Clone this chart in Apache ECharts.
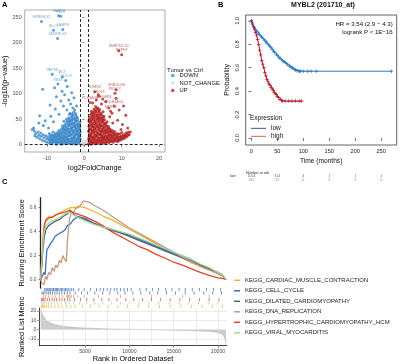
<!DOCTYPE html>
<html>
<head>
<meta charset="utf-8">
<script src="https://cdn.jsdelivr.net/npm/echarts@6/dist/echarts.min.js"></script>
<style>
  html, body { margin: 0; padding: 0; background: #fff; }
  #main { width: 400px; height: 364px; }
</style>
</head>
<body>
<div id="main"></div>
<script>
const FONT = '"Liberation Sans", Arial, sans-serif'

// ---------- A: volcano ----------
const fcCut = 1
const pCut = 1.3
const downPts = [
  [-1.1,2],[-1.3,7],[-1.2,13],[-1.4,19],[-1.1,25],[-1.3,31],[-1.5,38],[-1.2,44],
  [-1.7,3],[-1.9,9],[-1.6,16],[-1.8,22],[-2.0,28],[-1.7,35],[-1.9,41],[-1.8,48],[-2.0,55],
  [-2.3,1],[-2.5,6],[-2.2,12],[-2.6,18],[-2.4,25],[-2.3,32],[-2.6,39],[-2.4,46],[-2.5,53],[-2.3,61],[-2.6,68],
  [-2.9,4],[-3.1,10],[-2.8,16],[-3.0,23],[-3.2,29],[-2.9,36],[-3.1,43],[-3.0,50],[-3.2,57],[-2.9,64],[-3.1,72],
  [-3.5,2],[-3.7,8],[-3.4,14],[-3.6,21],[-3.8,27],[-3.5,34],[-3.7,41],[-3.6,48],[-3.4,55],[-3.8,62],
  [-4.1,5],[-4.3,11],[-4.0,18],[-4.2,24],[-4.4,31],[-4.1,38],[-4.3,45],[-4.2,53],[-4.0,60],
  [-4.7,3],[-4.9,9],[-4.6,15],[-4.8,22],[-5.0,28],[-4.7,35],[-4.9,42],[-4.8,50],
  [-5.3,6],[-5.5,12],[-5.2,18],[-5.4,25],[-5.6,32],[-5.3,39],[-5.5,46],
  [-5.9,4],[-6.1,10],[-5.8,16],[-6.0,23],[-6.2,30],[-5.9,37],
  [-6.5,3],[-6.7,9],[-6.4,15],[-6.6,21],[-6.8,28],
  [-7.1,5],[-7.3,11],[-7.0,17],[-7.2,24],[-7.5,1],[-6.2,1],[-8.7,2],
  [-7.7,4],[-7.9,10],[-7.6,16],[-7.8,22],
  [-8.3,6],[-8.5,12],[-8.2,18],[-8.4,25],
  [-8.9,8],[-9.1,14],[-8.8,20],[-9.3,3],
  [-9.5,10],[-9.7,16],[-9.4,22],[-10.0,5],
  [-10.1,12],[-10.3,18],[-10.6,7],
  [-10.8,14],[-11.0,20],[-11.3,9],
  [-11.5,17],[-11.7,23],[-12.0,12],
  [-12.2,19],[-12.4,25],[-12.7,15],
  [-13.0,22],[-13.4,27],[-13.3,18],[-14.0,30],
  [-1.4,5],[-1.2,11],[-1.5,17],[-1.3,23],[-1.5,29],[-1.2,35],[-1.4,41],
  [-2.0,6],[-1.8,13],[-2.1,20],[-1.9,26],[-2.1,32],[-2.0,39],[-2.1,46],[-1.9,52],
  [-2.6,4],[-2.4,10],[-2.7,15],[-2.5,21],[-2.7,29],[-2.5,36],[-2.7,43],[-2.6,50],[-2.4,58],
  [-3.2,2],[-3.3,7],[-3.1,13],[-3.4,20],[-3.1,26],[-3.3,33],[-3.2,40],[-3.4,47],[-3.3,53],[-3.2,60],
  [-3.9,4],[-3.8,11],[-3.9,18],[-4.0,24],[-3.8,31],[-4.0,38],[-3.9,44],[-4.0,50],
  [-4.5,2],[-4.5,8],[-4.6,12],[-4.4,19],[-4.5,26],[-4.6,32],[-4.4,40],[-4.6,46],
  [-5.1,4],[-5.1,10],[-5.0,16],[-5.2,22],[-5.1,30],[-5.2,36],
  [-5.7,2],[-5.7,8],[-5.6,14],[-5.8,20],[-5.7,27],[-5.8,33],
  [-6.3,6],[-6.3,13],[-6.4,19],[-6.3,25],
  [-6.9,5],[-6.9,12],[-6.8,18],[-7.0,23],
  [-7.4,7],[-7.5,14],[-7.4,20],
  [-8.0,7],[-8.1,13],[-8.0,19],
  [-8.6,4],[-8.7,9],[-8.6,16],
  [-9.2,6],[-9.3,11],[-9.1,18],
  [-11.2,109],[-8.0,112],[-4.6,114],[-6.0,105],[-3.4,102],[-5.3,98],[-7.5,94],[-2.8,92],
  [-4.2,88],[-6.3,86],[-9.2,78],[-3.7,80],[-5.6,76],[-2.1,76],[-7.8,70],[-4.7,68],
  [-12.0,57],[-9.0,56],[-6.8,60],[-10.5,47],[-12.2,43],[-8.3,45],[-11.0,38],[-9.6,33],[-13.6,33]
]
const ncPts = [[-0.5,1],[0.3,2],[-0.2,4],[0.6,0.5],[0.1,6],[-0.8,3],[0.8,5],[-0.4,8],[0.5,9],[0,3]]
const upPts = [
  [1.1,2],[1.3,8],[1.2,14],[1.4,20],[1.1,27],[1.3,33],[1.5,40],[1.2,47],[1.4,54],
  [1.7,1],[1.9,6],[1.6,12],[1.8,18],[2.0,25],[1.7,31],[1.9,38],[1.8,45],[2.0,52],[1.7,59],[1.9,66],
  [2.3,3],[2.5,9],[2.2,15],[2.6,22],[2.4,28],[2.3,35],[2.6,42],[2.4,49],[2.5,56],[2.3,63],[2.6,70],
  [2.9,2],[3.1,7],[2.8,13],[3.0,19],[3.2,26],[2.9,33],[3.1,40],[3.0,47],[3.2,54],[2.9,61],[3.1,68],[3.0,75],
  [3.5,4],[3.7,10],[3.4,17],[3.6,23],[3.8,30],[3.5,37],[3.7,44],[3.6,51],[3.4,58],[3.8,65],[3.6,72],
  [4.1,2],[4.3,8],[4.0,14],[4.2,21],[4.4,27],[4.1,34],[4.3,41],[4.2,48],[4.0,55],[4.4,62],[4.1,69],
  [4.7,5],[4.9,11],[4.6,17],[4.8,24],[5.0,30],[4.7,37],[4.9,44],[4.8,51],[4.6,58],[5.0,65],
  [5.3,3],[5.5,9],[5.2,15],[5.4,22],[5.6,28],[5.3,35],[5.5,42],[5.4,49],[5.2,56],
  [5.9,6],[6.1,12],[5.8,18],[6.0,25],[6.2,31],[5.9,38],[6.1,45],
  [6.5,4],[6.7,10],[6.4,16],[6.6,23],[6.8,29],[6.5,36],
  [7.1,7],[7.3,13],[7.0,19],[7.2,26],
  [7.7,5],[7.9,11],[7.6,17],[7.8,23],
  [8.3,8],[8.5,14],[8.2,20],
  [8.9,6],[9.1,12],[8.8,18],
  [9.5,9],[9.7,15],[9.4,21],
  [10.1,11],[10.3,17],[10.0,24],
  [10.7,13],[10.9,19],
  [11.3,16],[11.5,22],
  [12.0,20],[12.3,25],
  [1.4,5],[1.2,11],[1.5,17],[1.3,24],[1.5,30],[1.2,37],[1.4,44],[1.3,50],
  [2.0,4],[1.8,9],[2.1,15],[1.9,21],[2.1,28],[2.0,35],[2.1,42],[1.9,48],[2.1,56],[2.0,62],
  [2.6,6],[2.4,12],[2.7,18],[2.5,25],[2.7,32],[2.5,38],[2.7,45],[2.6,52],[2.4,59],[2.7,66],
  [3.3,4],[3.3,10],[3.1,16],[3.4,22],[3.1,29],[3.3,36],[3.2,43],[3.4,50],[3.3,57],[3.2,64],[3.4,71],
  [3.9,7],[3.8,13],[3.9,20],[4.0,27],[3.8,33],[4.0,40],[3.9,47],[4.0,53],[3.8,60],[3.9,67],
  [4.5,3],[4.5,10],[4.6,14],[4.4,20],[4.5,26],[4.6,31],[4.4,38],[4.6,45],[4.5,52],[4.4,59],
  [5.1,7],[5.1,13],[5.0,19],[5.2,26],[5.1,33],[5.2,40],[5.0,47],[5.1,54],
  [5.7,4],[5.7,11],[5.6,16],[5.8,23],[5.7,30],[5.8,36],[5.7,43],
  [6.3,8],[6.3,14],[6.4,20],[6.3,27],[6.4,33],
  [6.9,6],[6.9,13],[6.8,19],[7.0,25],[6.9,31],
  [7.4,9],[7.5,16],[7.4,22],[7.5,28],
  [8.0,8],[8.1,14],[8.0,20],[8.1,26],
  [8.6,10],[8.7,16],[8.6,22],
  [9.2,9],[9.3,15],[9.1,21],
  [9.8,12],[9.9,18],[10.4,14],[10.5,20],[11.0,17],[11.1,23],[11.7,19],[11.8,25],
  [3.7,98],[8.5,91],[10.5,76],[11.1,58],[7.4,62],[6.5,72],[4.6,80],[2.2,82],[9.3,68],
  [6.8,55],[8.9,48],[10.2,40],[7.6,43],[11.6,33],[9.8,30],[4.9,90],[3.2,88]
]
const downLabels = [
  ['SMAD3', -6.9, 252.7], ['PLL3', -6.4, 252], ['GRRSS-X1', -11.5, 241.5], ['LAMP8', -5.8, 225.8],
  ['SLC1', -8.3, 224.4], ['SNURF-X1', -7.2, 208], ['PAPSS', -8.6, 138], ['ACT', -5.9, 133],
  ['CXCL8', -5.0, 126], ['TBX8', -7.1, 119]
]
const upLabels = [
  ['SNRPD2-X2', 9.2, 184], ['NXPH7', 10.0, 176.6], ['STMN2', 2.8, 104], ['GRB10-E8', 8.5, 107.7],
  ['AR276', 3.9, 95], ['PKDCC', 8.2, 101], ['FGFR4', 5.7, 85], ['PLXNA4B', 1.5, 83],
  ['ALDH1A3-1', 8.0, 76], ['MTRL3', 7.0, 66]
]
const volcanoXTicks = [-10, 0, 10, 20]
const volcanoYTicks = [0, 50, 100, 150, 200, 250]

// ---------- B: Kaplan-Meier ----------
const kmLowTime = [0,2,5,8,10,13,15,18,20,23,25,28,30,33,35,38,40,43,45,48,50,53,55,58,60,63,65,68,70,73,75,78,80,83,85,88,90,93,95,100,108,115,125,270]
const kmLowSurv = [1.0,0.97,0.945,0.925,0.91,0.895,0.885,0.87,0.86,0.845,0.835,0.82,0.81,0.795,0.785,0.77,0.755,0.74,0.73,0.715,0.705,0.69,0.68,0.67,0.66,0.65,0.645,0.635,0.625,0.615,0.61,0.6,0.595,0.585,0.58,0.575,0.572,0.57,0.57,0.57,0.57,0.57,0.57,0.57]
const kmHighTime = [0,2,4,6,8,10,12,14,16,18,20,22,24,26,28,30,32,34,36,38,40,42,44,46,48,50,52,55,58,60,65,72,78,85,92,97]
const kmHighSurv = [1.0,0.98,0.95,0.93,0.9,0.877,0.84,0.8,0.75,0.71,0.66,0.63,0.6,0.56,0.53,0.5,0.48,0.46,0.45,0.43,0.42,0.405,0.39,0.38,0.37,0.356,0.345,0.33,0.32,0.315,0.315,0.315,0.315,0.315,0.315,0.315]
const kmTimeTicks = [0, 50, 100, 150, 200, 250]
const kmProbTicks = [0, 0.2, 0.4, 0.6, 0.8, 1.0]
const riskLow = [1054, 314, 4, 1, 1, 1]
const riskHigh = [362, 22, 0, 0, 0, 0]

// ---------- C: GSEA ----------
const gseaSets = ['KEGG_CARDIAC_MUSCLE_CONTRACTION', 'KEGG_CELL_CYCLE', 'KEGG_DILATED_CARDIOMYOPATHY',
  'KEGG_DNA_REPLICATION', 'KEGG_HYPERTROPHIC_CARDIOMYOPATHY_HCM', 'KEGG_VIRAL_MYOCARDITIS']
const gseaColors = ['#e8b830', '#3b6fbf', '#4f6475', '#c49a82', '#e2452b', '#a3d69c']
const esCardiac = [[0,0],[150,0.2],[300,0.38],[500,0.48],[800,0.5],[1200,0.52],[1600,0.53],[2000,0.55],[2500,0.57],[3000,0.59],[3400,0.6],[3800,0.6],[4200,0.61],[5000,0.6],[6000,0.57],[7000,0.53],[8000,0.5],[9000,0.46],[10000,0.42],[11000,0.38],[12000,0.34],[13000,0.3],[14000,0.26],[15000,0.22],[16000,0.18],[17000,0.14],[18000,0.11],[19000,0.08],[20000,0.05],[20500,0.03],[20900,0]]
const esCellCycle = [[0,0],[200,0.03],[400,0.06],[500,0.04],[700,0.25],[900,0.27],[1100,0.3],[1400,0.33],[1600,0.36],[1800,0.35],[2000,0.38],[2200,0.37],[2500,0.4],[2800,0.42],[3000,0.45],[3300,0.46],[3600,0.49],[3900,0.51],[4200,0.52],[4600,0.51],[5000,0.5],[6000,0.47],[7000,0.44],[8000,0.42],[9000,0.39],[10000,0.37],[11000,0.34],[12000,0.31],[13000,0.28],[14000,0.25],[15000,0.22],[16000,0.19],[17000,0.16],[18000,0.12],[19000,0.09],[20000,0.05],[20500,0.03],[20900,0]]
const esDilated = [[0,0],[100,0.1],[250,0.25],[400,0.35],[600,0.42],[900,0.45],[1300,0.47],[1700,0.49],[2100,0.5],[2600,0.53],[3000,0.55],[3300,0.57],[3600,0.55],[4000,0.53],[5000,0.51],[6000,0.47],[7000,0.44],[8000,0.41],[9000,0.39],[10000,0.36],[11000,0.33],[12000,0.3],[13000,0.27],[14000,0.24],[15000,0.21],[16000,0.18],[17000,0.15],[18000,0.12],[19000,0.09],[20000,0.06],[20500,0.04],[20900,0]]
const esDnaRep = [[0,0],[150,-0.03],[400,-0.04],[550,0.03],[700,0.0],[900,0.06],[1100,0.04],[1300,0.1],[1500,0.07],[1700,0.12],[1900,0.1],[2100,0.16],[2300,0.14],[2500,0.2],[2700,0.17],[2900,0.15],[3000,0.3],[3100,0.4],[3250,0.5],[3450,0.56],[3700,0.56],[3900,0.59],[4200,0.6],[4500,0.62],[4800,0.655],[5200,0.65],[5600,0.64],[6000,0.62],[7000,0.58],[8000,0.53],[9000,0.48],[10000,0.43],[11000,0.39],[12000,0.35],[13000,0.31],[14000,0.27],[15000,0.23],[16000,0.19],[17000,0.15],[18000,0.11],[19000,0.08],[20000,0.05],[20500,0.03],[20900,0]]
const esHcm = [[0,0],[100,0.1],[250,0.3],[400,0.45],[600,0.5],[900,0.52],[1300,0.52],[1700,0.54],[2100,0.55],[2600,0.56],[3000,0.57],[3300,0.58],[3600,0.56],[4000,0.55],[5000,0.525],[6000,0.49],[7000,0.45],[8000,0.4],[9000,0.36],[10000,0.32],[11000,0.28],[12000,0.25],[13000,0.21],[14000,0.18],[15000,0.145],[16000,0.12],[17000,0.09],[18000,0.06],[19000,0.035],[20000,0.015],[20500,0.01],[20900,0]]
const esViral = [[0,0],[100,0.12],[250,0.3],[400,0.4],[600,0.45],[900,0.47],[1300,0.49],[1700,0.5],[2100,0.52],[2600,0.54],[3000,0.56],[3300,0.56],[3700,0.54],[4200,0.52],[5000,0.49],[6000,0.46],[7000,0.44],[8000,0.42],[9000,0.4],[10000,0.38],[11000,0.35],[12000,0.32],[13000,0.29],[14000,0.26],[15000,0.23],[16000,0.2],[17000,0.17],[18000,0.13],[19000,0.1],[20000,0.06],[20500,0.04],[20900,0]]
const esLines = [esCardiac, esCellCycle, esDilated, esDnaRep, esHcm, esViral]

const hitsCellCycle = [450,600,700,820,950,1050,1150,1300,1420,1500,1650,1780,1900,2050,2200,2350,2500,2650,2800,2950,3100,3300,3500,3700,4300,4900,5600,6300,6700,7100,7500,7900,8300,8600,9000,9400,9800,10200,11200,11900,12600,13300,14100,14800,15600,16300,17100,17900,18700,19500,20300]
const hitsDilated = [150,300,480,700,900,1100,1350,1600,1850,2100,2400,2700,3000,3300,3900,4600,5300,6100,7000,7800,8700,9500,10400,11300,12300,13200,14200,15200,16300,17300,18400,19400,20400]
const hitsDnaRep = [300,550,900,1300,1700,2100,2500,2950,3050,3150,3300,3450,3700,4200,4900,6500,9000,12500,16000,19000]
const hitsHcm = [100,220,350,500,750,1000,1300,1550,1800,2100,2400,2700,3000,3300,3800,4500,5200,6000,6900,7700,8600,9600,10500,11500,12500,13500,14600,15700,16800,17900,19000,20100]
const hitsViral = [120,260,420,650,900,1200,1500,1900,2300,2800,3200,3700,4400,5200,6100,7000,8000,9000,10000,11100,12200,13300,14500,15600,16700,17800,18900,20000]
const hitsCardiac = [80,180,300,450,650,900,1200,1600,2000,2400,2900,3400,3900,4700,5600,6600,7600,8700,9800,11000,12200,13400,14600,15800,17000,18200,19400,20500]
// rug rows from top to bottom, index into gseaSets
const rugRows = [1, 2, 3, 4, 5, 0]
const rugHits = [hitsCellCycle, hitsDilated, hitsDnaRep, hitsHcm, hitsViral, hitsCardiac]

const metricRank = [0,100,300,600,1000,1500,2000,3000,4000,5000,6000,7000,8000,9000,10000,10800,11500,12500,13000,14000,15000,16000,17000,18000,19000,19800,20300,20600,20800,20900]
const metricVal = [22,18,14,10,7.5,5.5,4.5,3,2.2,1.7,1.3,1.0,0.7,0.5,0.35,0.1,0,0,-0.1,-0.3,-0.5,-0.7,-1,-1.3,-1.8,-2.6,-4,-6,-10,-15]
const rankTicks = [5000, 10000, 15000, 20000]
const rankGrid = [2500, 5000, 7500, 10000, 12500, 15000, 17500, 20000]
const esTicks = [0, 0.2, 0.4, 0.6]
const metricTicks = [-10, 0, 10, 20]

const plusSym = 'path://M4,0H6V4H10V6H6V10H4V6H0V4H4Z'
const blue = '#3a86c8', red = '#b32020'
const kmLowCol = '#2b78be', kmHighCol = '#b5172e'

function tickAxis(extra) {
  return Object.assign({
    type: 'value',
    axisLine: {show: false},
    splitLine: {show: false},
    axisTick: {show: true, length: 2, lineStyle: {color: '#333', width: 0.6}},
    axisLabel: {fontSize: 5.5, color: '#4d4d4d', margin: 3, fontFamily: FONT},
    nameTextStyle: {fontSize: 7.3, color: '#000', fontFamily: FONT},
    nameLocation: 'middle'
  }, extra)
}

const series = []

// volcano
series.push({name: 'DOWN', type: 'scatter', xAxisIndex: 0, yAxisIndex: 0, data: downPts, symbolSize: 3, itemStyle: {color: blue}})
series.push({name: 'NOT_CHANGE', type: 'scatter', xAxisIndex: 0, yAxisIndex: 0, data: ncPts, symbolSize: 3, itemStyle: {color: '#d6d6d6'}})
series.push({name: 'UP', type: 'scatter', xAxisIndex: 0, yAxisIndex: 0, data: upPts, symbolSize: 3, itemStyle: {color: red},
  markLine: {silent: true, symbol: 'none', label: {show: false},
    lineStyle: {color: '#111', width: 0.9, type: [3, 2]},
    data: [{xAxis: -fcCut}, {xAxis: fcCut}, {yAxis: pCut}]}})
series.push({type: 'scatter', xAxisIndex: 0, yAxisIndex: 0, symbolSize: 3, itemStyle: {color: blue},
  data: downLabels.map(d => ({name: d[0], value: [d[1], d[2]]})),
  label: {show: true, formatter: '{b}', position: 'top', distance: 1, fontSize: 3.6, color: '#4a86bd', fontFamily: FONT}})
series.push({type: 'scatter', xAxisIndex: 0, yAxisIndex: 0, symbolSize: 3, itemStyle: {color: red},
  data: upLabels.map(d => ({name: d[0], value: [d[1], d[2]]})),
  label: {show: true, formatter: '{b}', position: 'top', distance: 1, fontSize: 3.6, color: '#a84040', fontFamily: FONT}})

// KM
series.push({name: 'low', type: 'line', step: 'end', xAxisIndex: 1, yAxisIndex: 1,
  data: kmLowTime.map((t, i) => [t, kmLowSurv[i]]), symbol: plusSym, symbolSize: 3.5, showSymbol: true,
  lineStyle: {color: kmLowCol, width: 1}, itemStyle: {color: kmLowCol}})
series.push({name: 'high', type: 'line', step: 'end', xAxisIndex: 1, yAxisIndex: 1,
  data: kmHighTime.map((t, i) => [t, kmHighSurv[i]]), symbol: plusSym, symbolSize: 3.5, showSymbol: true,
  lineStyle: {color: kmHighCol, width: 1}, itemStyle: {color: kmHighCol}})
// risk table
series.push({type: 'scatter', xAxisIndex: 5, yAxisIndex: 5, symbolSize: 0,
  data: kmTimeTicks.map((t, i) => [t, 'low', riskLow[i]]),
  label: {show: true, position: 'inside', formatter: p => p.value[2], fontSize: 3.6, color: '#333', fontFamily: FONT}})
series.push({type: 'scatter', xAxisIndex: 5, yAxisIndex: 5, symbolSize: 0,
  data: kmTimeTicks.map((t, i) => [t, 'high', riskHigh[i]]),
  label: {show: true, position: 'inside', formatter: p => p.value[2], fontSize: 3.6, color: '#c0505a', fontFamily: FONT}})

// GSEA running ES
gseaSets.forEach((name, i) => {
  series.push({name: name, type: 'line', xAxisIndex: 2, yAxisIndex: 2, data: esLines[i], symbol: 'none',
    lineStyle: {color: gseaColors[i], width: 1.3}, itemStyle: {color: gseaColors[i]}})
})
// rug
rugRows.forEach((setIdx, r) => {
  series.push({type: 'scatter', xAxisIndex: 3, yAxisIndex: 3, symbol: 'rect', symbolSize: [0.9, 3.2],
    data: rugHits[r].map(x => [x, r]), itemStyle: {color: gseaColors[setIdx]}})
})
// ranked list metric grid + area
series.push({type: 'line', xAxisIndex: 4, yAxisIndex: 4, data: [], symbol: 'none', z: 1,
  markLine: {silent: true, symbol: 'none', label: {show: false}, lineStyle: {color: '#dedede', width: 0.6, type: 'solid'},
    data: rankGrid.map(v => ({xAxis: v})).concat(metricTicks.map(v => ({yAxis: v})))}})
series.push({type: 'line', xAxisIndex: 4, yAxisIndex: 4, z: 3, symbol: 'none',
  data: metricRank.map((r, i) => [r, metricVal[i]]),
  lineStyle: {color: '#9a9a9a', width: 0.4}, areaStyle: {color: '#b8b8b8', origin: 0}})

const rugCats = rugRows.map((s, r) => r)

const option = {
  animation: false,
  textStyle: {fontFamily: FONT},
  grid: [
    {left: 24.7, top: 10, width: 140.3, height: 142, show: true, borderColor: '#8a8a8a', borderWidth: 0.7, backgroundColor: '#fff'},
    {left: 245.7, top: 15, width: 151, height: 130, show: true, borderColor: '#222', borderWidth: 0.7},
    {left: 39.3, top: 197.7, width: 187.4, height: 90.3},
    {left: 39.3, top: 288, width: 187.4, height: 20},
    {left: 39.3, top: 308, width: 187.4, height: 37.7},
    {left: 245.7, top: 174, width: 151, height: 8}
  ],
  xAxis: [
    tickAxis({gridIndex: 0, min: -16, max: 21.6, name: 'log2FoldChange', nameGap: 12,
      axisTick: {show: true, length: 2, customValues: volcanoXTicks, lineStyle: {color: '#333', width: 0.6}},
      axisLabel: {fontSize: 5.5, color: '#4d4d4d', margin: 3.5, customValues: volcanoXTicks}}),
    tickAxis({gridIndex: 1, min: -11, max: 280, name: 'Time (months)', nameGap: 13,
      nameTextStyle: {fontSize: 6.6, color: '#111', fontFamily: FONT},
      axisTick: {show: true, length: 3, customValues: kmTimeTicks, lineStyle: {color: '#222', width: 0.6}},
      axisLabel: {fontSize: 5.6, color: '#222', margin: 3.5, customValues: kmTimeTicks}}),
    {type: 'value', gridIndex: 2, min: -155, max: 20980, show: false},
    {type: 'value', gridIndex: 3, min: -155, max: 20980, show: false},
    tickAxis({gridIndex: 4, min: -155, max: 20980, name: 'Rank in Ordered Dataset', nameGap: 9.5,
      axisLine: {show: true, onZero: false, lineStyle: {color: '#111', width: 0.8}},
      axisTick: {show: true, length: 2, customValues: rankTicks, lineStyle: {color: '#333', width: 0.6}},
      axisLabel: {fontSize: 5.2, color: '#4d4d4d', margin: 3, customValues: rankTicks, formatter: v => String(v)}}),
    {type: 'value', gridIndex: 5, min: -11, max: 280, show: false}
  ],
  yAxis: [
    tickAxis({gridIndex: 0, min: -14, max: 264, name: '-log10(p\u2212value)', nameGap: 15,
      axisTick: {show: true, length: 2, customValues: volcanoYTicks, lineStyle: {color: '#333', width: 0.6}},
      axisLabel: {fontSize: 5.5, color: '#4d4d4d', margin: 3, customValues: volcanoYTicks}}),
    tickAxis({gridIndex: 1, min: -0.06, max: 1.05, name: 'Probability', nameGap: 15.5,
      nameTextStyle: {fontSize: 6.8, color: '#111', fontFamily: FONT},
      axisTick: {show: true, length: 3, customValues: kmProbTicks, lineStyle: {color: '#222', width: 0.6}},
      axisLabel: {fontSize: 5.6, color: '#222', margin: 5, rotate: 90, customValues: kmProbTicks, formatter: v => v.toFixed(1)}}),
    tickAxis({gridIndex: 2, min: -0.07, max: 0.683, name: 'Running Enrichment Score', nameGap: 13,
      axisLine: {show: true, lineStyle: {color: '#222', width: 1.3}},
      axisTick: {show: true, length: 2, customValues: esTicks, lineStyle: {color: '#333', width: 0.6}},
      axisLabel: {fontSize: 4.8, color: '#4d4d4d', margin: 3, customValues: esTicks, formatter: v => v.toFixed(1)}}),
    {type: 'category', gridIndex: 3, data: rugCats, inverse: true, show: false},
    tickAxis({gridIndex: 4, min: -17, max: 23, name: 'Ranked List Metric', nameGap: 13,
      axisLine: {show: true, onZero: false, lineStyle: {color: '#111', width: 0.8}},
      axisTick: {show: true, length: 2, customValues: metricTicks, lineStyle: {color: '#333', width: 0.6}},
      axisLabel: {fontSize: 5, color: '#4d4d4d', margin: 3, customValues: metricTicks}}),
    {type: 'category', gridIndex: 5, data: ['low', 'high'], inverse: true,
      axisLine: {show: false}, axisTick: {show: false},
      axisLabel: {fontSize: 3.6, margin: 10, color: v => v === 'high' ? '#c0505a' : '#333'}}
  ],
  legend: [
    {data: ['DOWN', 'NOT_CHANGE', 'UP'], orient: 'vertical', left: 171, top: 72, padding: 0,
      icon: 'circle', itemWidth: 3.5, itemHeight: 3.5, itemGap: 0.5, selectedMode: false,
      textStyle: {fontSize: 5.8, lineHeight: 7, color: '#111', fontFamily: FONT}},
    {data: [{name: 'low', itemStyle: {color: '#26408a'}}, {name: 'high', itemStyle: {color: '#c0506a'}}],
      orient: 'vertical', left: 251, top: 124.3, padding: 0, icon: 'rect', itemWidth: 15, itemHeight: 0.9, itemGap: 0,
      selectedMode: false, textStyle: {fontSize: 6.5, lineHeight: 8, color: '#111', fontFamily: FONT}},
    {data: gseaSets, orient: 'vertical', left: 234, top: 276.8, padding: 0, icon: 'rect', itemWidth: 6, itemHeight: 1.5,
      itemGap: 3.5, selectedMode: false, textStyle: {fontSize: 6, lineHeight: 7, color: '#222', fontFamily: FONT}}
  ],
  graphic: [
    {type: 'text', x: 2, y: 5, style: {text: 'A', font: 'bold 7.5px ' + FONT, fill: '#000', verticalAlign: 'middle'}},
    {type: 'text', x: 218, y: 5, style: {text: 'B', font: 'bold 7.5px ' + FONT, fill: '#000', verticalAlign: 'middle'}},
    {type: 'text', x: 2, y: 182, style: {text: 'C', font: 'bold 7.5px ' + FONT, fill: '#000', verticalAlign: 'middle'}},
    {type: 'text', x: 167, y: 70, style: {text: 'Tumor vs Ctrl', font: '6px ' + FONT, fill: '#111', verticalAlign: 'middle'}},
    {type: 'text', x: 323, y: 5, style: {text: 'MYBL2 (201710_at)', font: 'bold 7px ' + FONT, fill: '#111', align: 'center', verticalAlign: 'middle'}},
    {type: 'text', x: 392.7, y: 24, style: {text: 'HR = 3.54 (2.9 \u2212 4.3)', font: '6.1px ' + FONT, fill: '#111', align: 'right', verticalAlign: 'middle'}},
    {type: 'text', x: 392.7, y: 32.3, style: {text: 'logrank P < 1E\u221216', font: '6.1px ' + FONT, fill: '#111', align: 'right', verticalAlign: 'middle'}},
    {type: 'text', x: 250, y: 118.3, style: {text: 'Expression', font: '6.5px ' + FONT, fill: '#111', verticalAlign: 'middle'}},
    {type: 'text', x: 246, y: 172.5, style: {text: 'Number at risk', font: '3.6px ' + FONT, fill: '#222', verticalAlign: 'middle'}}
  ],
  series: series
}

const chart = echarts.init(document.getElementById('main'), null, {renderer: 'canvas'})
chart.setOption(option)
</script>
</body>
</html>
